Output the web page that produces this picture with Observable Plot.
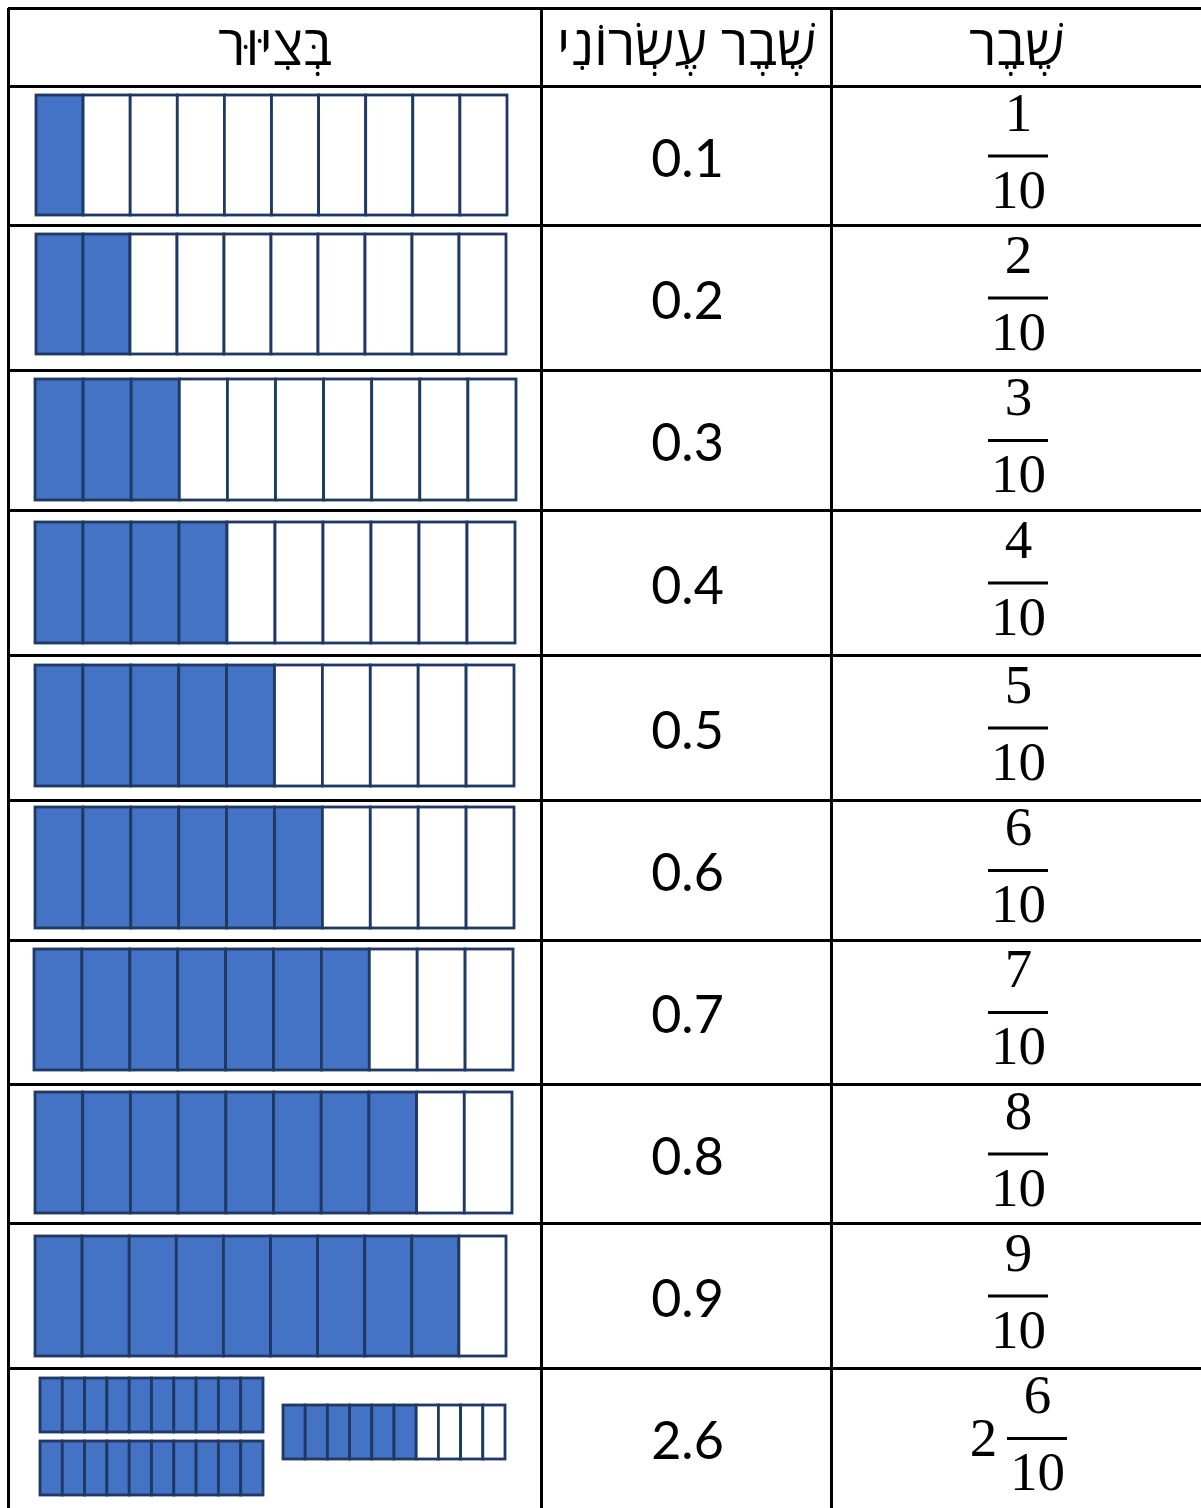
<!DOCTYPE html>
<html>
<head>
<meta charset="utf-8">
<script src="https://cdn.jsdelivr.net/npm/d3@7"></script>
<script src="https://cdn.jsdelivr.net/npm/@observablehq/plot@0.6"></script>
<style>
  html, body { margin: 0; padding: 0; background: #ffffff; }
  #chart svg { display: block; }
</style>
</head>
<body>
<div id="chart"></div>
<script>
// ---------- DATA ----------
const headers = ["בְּצִיּוּר", "שֶׁבֶר עֶשְׂרוֹנִי", "שֶׁבֶר"];
const decimals = ["0.1", "0.2", "0.3", "0.4", "0.5", "0.6", "0.7", "0.8", "0.9", "2.6"];
const wholes = [0, 0, 0, 0, 0, 0, 0, 0, 0, 2];
const numerators = [1, 2, 3, 4, 5, 6, 7, 8, 9, 6];
const denominators = [10, 10, 10, 10, 10, 10, 10, 10, 10, 10];

// ---------- LAYOUT (positions / sizes / styles) ----------
const W = 1201, H = 1508;
const colEdges = [8, 541, 831];
const rowEdges = [8, 86, 225, 370, 510, 655, 800, 940, 1084, 1223, 1368];
const tableBottom = 1508, tableRight = 1201;
// bar boxes per row: [x0, x1, y0, y1]
const barBoxes = [
  [[36, 507, 95, 215]],
  [[36, 506, 234, 354]],
  [[35, 516, 379, 500]],
  [[35, 515, 522, 643]],
  [[35, 514, 665, 786]],
  [[35, 514, 807, 928]],
  [[34, 513, 949, 1070]],
  [[35, 512, 1092, 1213]],
  [[35, 506, 1236, 1356]],
  [[40, 263, 1378, 1432], [40, 263, 1441, 1495], [283, 505, 1405, 1459]]
];
const blue = "#4472C4", navy = "#1F3864";
const decX = 687, fracX = 1018;

// ---------- BUILD ----------
const rowMid = i => (rowEdges[i + 1] + (rowEdges[i + 2] ?? tableBottom)) / 2;

const cells = [];
decimals.forEach((d, r) => {
  const units = wholes[r] * denominators[r] + numerators[r];
  barBoxes[r].forEach((b, k) => {
    const n = denominators[r];
    const w = (b[1] - b[0]) / n;
    for (let i = 0; i < n; i++) {
      cells.push({
        x1: b[0] + i * w, x2: b[0] + (i + 1) * w, y1: b[2], y2: b[3],
        filled: k * n + i < units
      });
    }
  });
});

const headerText = headers.map((h, i) => ({
  text: h, x: (colEdges[i] + (colEdges[i + 1] ?? tableRight)) / 2, y: 47
}));

const decText = decimals.map((d, r) => ({text: d, x: decX, y: rowMid(r) + 4}));

const fracParts = [];
const fracLines = [];
decimals.forEach((d, r) => {
  const mid = rowMid(r);
  const cx = wholes[r] ? fracX + 19 : fracX;
  fracParts.push({text: String(numerators[r]), x: cx, y: mid - 43});
  fracParts.push({text: String(denominators[r]), x: cx, y: mid + 34});
  if (wholes[r]) fracParts.push({text: String(wholes[r]), x: fracX - 35, y: mid});
  fracLines.push({x1: cx - 30, x2: cx + 30, y: mid});
});

const hLines = rowEdges.map(y => ({y}));
const vLines = colEdges.map(x => ({x}));

const plot = Plot.plot({
  width: W, height: H,
  margin: 0,
  x: {domain: [0, W], range: [0, W], axis: null},
  y: {domain: [0, H], range: [0, H], axis: null},
  style: {background: "#ffffff"},
  marks: [
    Plot.rect(cells, {
      x1: "x1", x2: "x2", y1: "y1", y2: "y2",
      fill: d => d.filled ? blue : "#ffffff",
      stroke: navy, strokeWidth: 2.8
    }),
    Plot.ruleY(hLines, {y: "y", x1: colEdges[0], x2: tableRight, stroke: "#000", strokeWidth: 3}),
    Plot.ruleX(vLines, {x: "x", y1: rowEdges[0], y2: tableBottom, stroke: "#000", strokeWidth: 3}),
    Plot.text(headerText, {
      x: "x", y: "y", text: "text", fontSize: 55,
      fontFamily: "'Open Sans', 'DejaVu Sans', sans-serif", fill: "#000"
    }),
    Plot.text(decText, {
      x: "x", y: "y", text: "text", fontSize: 52,
      fontFamily: "Lato, 'Open Sans', sans-serif", fill: "#000"
    }),
    Plot.text(fracParts, {
      x: "x", y: "y", text: "text", fontSize: 55,
      fontFamily: "'Liberation Serif', 'DejaVu Serif', serif", fill: "#000"
    }),
    Plot.ruleY(fracLines, {y: "y", x1: "x1", x2: "x2", stroke: "#000", strokeWidth: 3})
  ]
});

document.getElementById("chart").appendChild(plot);
</script>
</body>
</html>
